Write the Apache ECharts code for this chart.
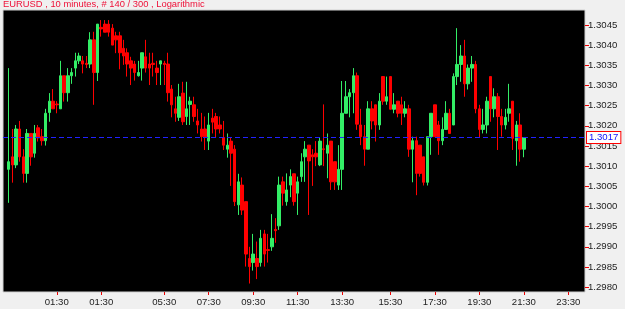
<!DOCTYPE html>
<html>
<head>
<meta charset="utf-8">
<script src="https://cdn.jsdelivr.net/npm/echarts@6/dist/echarts.min.js"></script>
<style>
html,body{margin:0;padding:0;background:#f0f0f0;}
#chart{width:625px;height:309px;}
</style>
</head>
<body>
<div id="chart"></div>
<script>
// ---- data (EURUSD, 10 minute bars, 140 visible) ----
const opens = [
1.30092,1.30123,1.30103,1.30192,1.30123,1.30082,1.30181,1.30132,1.30195,1.30173,
1.30163,1.30233,1.30261,1.30254,1.30242,1.30324,1.30282,1.30324,1.30343,1.30361,
1.30361,1.30355,1.30353,1.30413,1.30332,1.30444,1.30452,1.30452,1.30442,1.30423,
1.30423,1.30392,1.30381,1.30361,1.30353,1.30324,1.30343,1.30371,1.30353,1.30355,
1.30343,1.30353,1.30355,1.30353,1.30291,1.30242,1.30221,1.30281,1.30223,1.30253,
1.30252,1.30212,1.30192,1.30192,1.30162,1.30219,1.30223,1.30202,1.30171,1.30142,
1.30162,1.30142,1.30004,1.30053,1.30012,1.29871,1.29861,1.29871,1.29861,1.29932,
1.29893,1.29900,1.29943,1.29952,1.30061,1.30012,1.30053,1.30081,1.30033,1.30074,
1.30123,1.30152,1.30128,1.30132,1.30103,1.30143,1.30132,1.30162,1.30111,1.30053,
1.30092,1.30231,1.30272,1.30282,1.30324,1.30202,1.30173,1.30142,1.30242,1.30252,
1.30202,1.30322,1.30261,1.30322,1.30241,1.30261,1.30252,1.30231,1.30242,1.30142,
1.30163,1.30152,1.30123,1.30060,1.30173,1.30252,1.30202,1.30163,1.30191,1.30231,
1.30202,1.30322,1.30352,1.30373,1.30304,1.30343,1.30352,1.30242,1.30191,1.30202,
1.30322,1.30242,1.30272,1.30223,1.30202,1.30231,1.30261,1.30163,1.30202,1.30142
];
const closes = [
1.30111,1.30103,1.30192,1.30123,1.30082,1.30181,1.30123,1.30181,1.30170,1.30163,
1.30231,1.30261,1.30242,1.30252,1.30324,1.30282,1.30324,1.30332,1.30361,1.30373,
1.30353,1.30352,1.30413,1.30332,1.30452,1.30440,1.30432,1.30432,1.30400,1.30413,
1.30381,1.30373,1.30353,1.30343,1.30332,1.30332,1.30381,1.30343,1.30343,1.30352,
1.30332,1.30361,1.30352,1.30282,1.30252,1.30231,1.30272,1.30210,1.30242,1.30261,
1.30223,1.30202,1.30173,1.30173,1.30202,1.30209,1.30192,1.30192,1.30152,1.30152,
1.30132,1.30012,1.30061,1.29991,1.29882,1.29851,1.29882,1.29851,1.29921,1.29882,
1.29891,1.29921,1.29940,1.30053,1.30033,1.30041,1.30074,1.30012,1.30061,1.30111,
1.30142,1.30113,1.30123,1.30123,1.30162,1.30141,1.30152,1.30061,1.30061,1.30092,
1.30231,1.30272,1.30282,1.30324,1.30204,1.30173,1.30142,1.30242,1.30212,1.30202,
1.30261,1.30261,1.30272,1.30241,1.30252,1.30231,1.30231,1.30242,1.30142,1.30163,
1.30082,1.30082,1.30060,1.30173,1.30231,1.30173,1.30163,1.30191,1.30231,1.30181,
1.30322,1.30352,1.30373,1.30304,1.30343,1.30352,1.30242,1.30191,1.30202,1.30261,
1.30242,1.30272,1.30223,1.30202,1.30221,1.30242,1.30169,1.30202,1.30142,1.30171
];
const lows = [
1.30009,1.30059,1.30095,1.30111,1.30059,1.30059,1.30101,1.30121,1.30161,1.30151,
1.30151,1.30210,1.30242,1.30231,1.30242,1.30260,1.30260,1.30304,1.30322,1.30353,
1.30330,1.30343,1.30343,1.30252,1.30311,1.30421,1.30432,1.30421,1.30400,1.30380,
1.30340,1.30351,1.30322,1.30301,1.30312,1.30322,1.30312,1.30332,1.30301,1.30322,
1.30301,1.30301,1.30301,1.30260,1.30221,1.30210,1.30212,1.30202,1.30202,1.30202,
1.30210,1.30181,1.30161,1.30140,1.30140,1.30181,1.30171,1.30181,1.30140,1.30121,
1.30051,1.30001,1.29979,1.29979,1.29851,1.29809,1.29841,1.29820,1.29851,1.29851,
1.29861,1.29890,1.29910,1.29942,1.30002,1.30002,1.30023,1.30002,1.29979,1.30061,
1.30061,1.29979,1.30051,1.30100,1.30100,1.30100,1.30070,1.30041,1.30041,1.30041,
1.30041,1.30231,1.30221,1.30231,1.30190,1.30152,1.30101,1.30142,1.30191,1.30161,
1.30190,1.30252,1.30252,1.30241,1.30231,1.30221,1.30202,1.30221,1.30123,1.30060,
1.30028,1.30074,1.30052,1.30052,1.30128,1.30173,1.30128,1.30152,1.30190,1.30181,
1.30202,1.30301,1.30309,1.30272,1.30290,1.30309,1.30231,1.30170,1.30181,1.30181,
1.30210,1.30221,1.30140,1.30173,1.30191,1.30210,1.30140,1.30101,1.30111,1.30122
];
const highs = [
1.30343,1.30192,1.30202,1.30212,1.30142,1.30192,1.30181,1.30202,1.30202,1.30192,
1.30242,1.30281,1.30291,1.30261,1.30361,1.30324,1.30343,1.30343,1.30381,1.30381,
1.30373,1.30373,1.30432,1.30433,1.30452,1.30462,1.30462,1.30462,1.30452,1.30433,
1.30433,1.30413,1.30392,1.30371,1.30361,1.30361,1.30381,1.30413,1.30381,1.30381,
1.30361,1.30361,1.30361,1.30381,1.30301,1.30272,1.30304,1.30309,1.30309,1.30272,
1.30272,1.30242,1.30232,1.30223,1.30232,1.30242,1.30232,1.30223,1.30212,1.30181,
1.30171,1.30152,1.30081,1.30072,1.30012,1.29900,1.29932,1.29913,1.29942,1.29942,
1.29932,1.29981,1.29971,1.30074,1.30074,1.30082,1.30092,1.30081,1.30074,1.30132,
1.30162,1.30152,1.30142,1.30162,1.30172,1.30253,1.30181,1.30162,1.30111,1.30152,
1.30311,1.30311,1.30291,1.30343,1.30332,1.30242,1.30202,1.30261,1.30261,1.30252,
1.30281,1.30322,1.30322,1.30322,1.30281,1.30261,1.30272,1.30261,1.30252,1.30173,
1.30173,1.30152,1.30123,1.30173,1.30231,1.30252,1.30212,1.30221,1.30261,1.30242,
1.30330,1.30442,1.30400,1.30413,1.30352,1.30373,1.30361,1.30252,1.30242,1.30272,
1.30322,1.30293,1.30281,1.30242,1.30242,1.30304,1.30261,1.30212,1.30231,1.30171
];
const priceTicks = [1.2980,1.2985,1.2990,1.2995,1.3000,1.3005,1.3010,1.3015,1.3020,1.3025,1.3030,1.3035,1.3040,1.3045];
const timeLabels = ['01:30','01:30','05:30','07:30','09:30','11:30','13:30','15:30','17:30','19:30','21:30','23:30'];
const timeLabelSlots = [14,26,43,55,67,79,91,104,116,128,140,152];
const slotCount = 157;
const firstSlot = 1;

// ---- build ----
const slots = new Array(slotCount).fill('');
timeLabelSlots.forEach((s, i) => { slots[s] = timeLabels[i]; });
const candles = [];
for (let i = 0; i < firstSlot; i++) candles.push('-');
for (let i = 0; i < opens.length; i++) candles.push([opens[i], closes[i], lows[i], highs[i]]);
const lastClose = closes[closes.length - 1];

const chart = echarts.init(document.getElementById('chart'), null, {renderer: 'canvas'});
const FONT = '"Liberation Sans", Arial, sans-serif';
chart.setOption({
  animation: false,
  backgroundColor: '#f0f0f0',
  title: {
    text: 'EURUSD , 10 minutes, # 140 / 300 , Logarithmic',
    left: 3, top: 0, padding: 0,
    textStyle: {fontSize: 9.4, fontWeight: 'normal', color: '#ee1038', fontFamily: FONT}
  },
  grid: {
    left: 3, right: 40, top: 10, bottom: 17,
    show: true, backgroundColor: '#000000', borderColor: '#d0d0d0', borderWidth: 1
  },
  xAxis: {
    type: 'category',
    data: slots,
    boundaryGap: true,
    axisLine: {show: false},
    axisTick: {
      show: true, alignWithLabel: true, length: 3,
      interval: (idx, val) => val !== '',
      lineStyle: {color: '#ee0000'}
    },
    axisLabel: {
      interval: (idx, val) => val !== '',
      color: '#222', fontSize: 9.6, fontFamily: FONT, margin: 5
    },
    splitLine: {show: false}
  },
  yAxis: {
    type: 'value',
    position: 'right',
    scale: true,
    min: 1.29788,
    max: 1.30487,
    axisLine: {show: false},
    axisTick: {show: true, length: 4, customValues: priceTicks, lineStyle: {color: '#ee0000'}},
    axisLabel: {
      customValues: priceTicks,
      formatter: v => v.toFixed(4),
      color: '#222', fontSize: 9.6, fontFamily: FONT, margin: 3
    },
    splitLine: {show: false}
  },
  series: [{
    type: 'candlestick',
    data: candles,
    barWidth: 3,
    itemStyle: {
      color: '#33ee66', color0: '#ff0000',
      borderColor: '#33ee66', borderColor0: '#ff0000', borderWidth: 1
    }
  }, {
    type: 'line',
    data: [],
    silent: true,
    markLine: {
      silent: true,
      precision: 5,
      symbol: ['none', 'none'],
      lineStyle: {color: '#2222ff', type: [5, 3], width: 1, opacity: 1},
      label: {
        position: 'end', distance: 2,
        formatter: () => lastClose.toFixed(4),
        color: '#1010ff', fontSize: 9.6, fontFamily: FONT,
        backgroundColor: '#ffffff', borderColor: '#ff0000', borderWidth: 1,
        padding: [1, 2, 0, 2]
      },
      emphasis: {disabled: true},
      data: [{yAxis: lastClose}]
    }
  }]
});
</script>
</body>
</html>
